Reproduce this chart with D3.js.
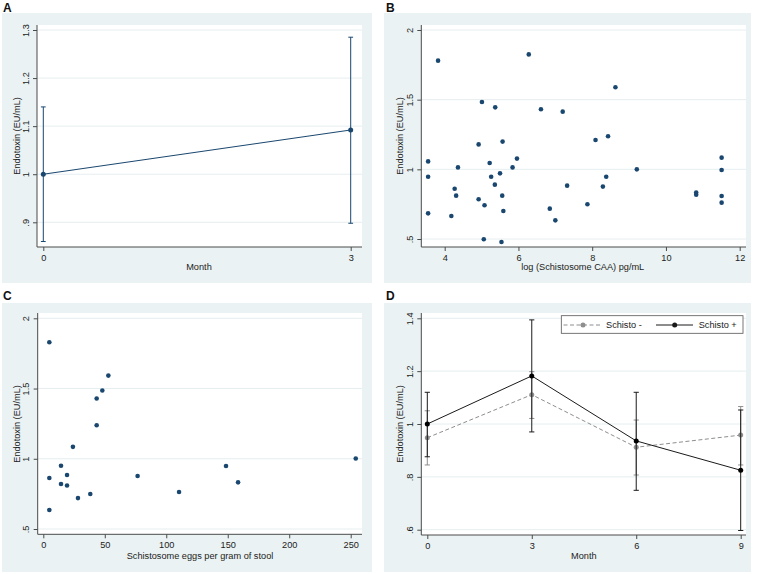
<!DOCTYPE html>
<html>
<head>
<meta charset="utf-8">
<script src="https://cdn.jsdelivr.net/npm/d3@7/dist/d3.min.js"></script>
<style>
  html, body { margin: 0; padding: 0; background: #ffffff; }
  svg { display: block; font-family: "Liberation Sans", Arial, Helvetica, sans-serif; }
</style>
</head>
<body>
<svg id="chart" width="757" height="574"></svg>
<script>
// ---------------- DATA ----------------
// Panel A: endotoxin by month (mean with CI)
const monthsA = [0, 3];
const meanA = [1.000, 1.092];
const lowA  = [0.860, 0.898];
const highA = [1.140, 1.285];
const yTicksA = [0.9, 1.0, 1.1, 1.2, 1.3];
const yTickLabelsA = [".9", "1", "1.1", "1.2", "1.3"];
const xTicksA = [0, 3];

// Panel B: log CAA vs endotoxin
const caaLog = [3.82, 6.28, 8.63, 5.01, 5.37, 6.61, 7.20, 8.09, 8.43, 4.92, 5.57, 3.55, 4.36, 5.22, 5.84,
                5.96, 3.55, 5.26, 5.50, 5.36, 4.27, 4.31, 5.56, 7.32, 8.29, 8.38, 9.21, 4.92, 5.08, 5.59,
                3.55, 4.18, 6.85, 7.00, 7.87, 5.06, 5.54, 10.82, 10.82, 11.51, 11.51, 11.51, 11.51];
const endoB  = [1.780, 1.825, 1.589, 1.483, 1.445, 1.431, 1.414, 1.211, 1.237, 1.179, 1.199, 1.057, 1.014, 1.045, 1.014,
                1.077, 0.947, 0.947, 0.971, 0.890, 0.861, 0.811, 0.811, 0.883, 0.876, 0.947, 1.000, 0.785, 0.742, 0.701,
                0.684, 0.665, 0.718, 0.634, 0.749, 0.498, 0.478, 0.833, 0.818, 1.084, 0.995, 0.809, 0.761];
const xTicksB = [4, 6, 8, 10, 12];
const yTicksB = [0.5, 1.0, 1.5, 2.0];
const yTickLabelsB = [".5", "1", "1.5", "2"];

// Panel C: eggs per gram vs endotoxin
const eggs  = [4.9, 52.9, 48.0, 43.4, 43.4, 24.1, 14.4, 4.9, 19.3, 14.4, 19.3, 28.2, 38.2, 4.9, 76.7, 110.4, 148.6, 158.4, 254.1];
const endoC = [1.829, 1.592, 1.486, 1.429, 1.239, 1.085, 0.950, 0.863, 0.884, 0.820, 0.810, 0.720, 0.749, 0.635, 0.877, 0.763, 0.948, 0.832, 1.002];
const xTicksC = [0, 50, 100, 150, 200, 250];
const yTicksC = [0.5, 1.0, 1.5, 2.0];
const yTickLabelsC = [".5", "1", "1.5", "2"];

// Panel D: by month and schisto status
const monthsD = [0, 3, 6, 9];
const seriesD = ["Schisto -", "Schisto +"];
const meanNeg = [0.948, 1.111, 0.912, 0.958];
const lowNeg  = [0.845, 1.021, 0.807, 0.845];
const highNeg = [1.050, 1.198, 1.015, 1.066];
const meanPos = [1.000, 1.182, 0.936, 0.825];
const lowPos  = [0.876, 0.970, 0.749, 0.597];
const highPos = [1.120, 1.394, 1.120, 1.053];
const yTicksD = [0.6, 0.8, 1.0, 1.2, 1.4];
const yTickLabelsD = [".6", ".8", "1", "1.2", "1.4"];

// ---------------- STYLE ----------------
const NAVY = "#1a476f";
const BG = "#eaf2f3";
const GRID = "#e6eef0";
const AXIS = "#4a4a4a";
const TEXT = "#222222";
const GREY = "#8e8e8e";
const FS = 9.2;

const svg = d3.select("#chart");

function panel(cfg) {
  const g = svg.append("g");
  // graph region
  g.append("rect").attr("x", cfg.bg[0]).attr("y", cfg.bg[1])
    .attr("width", cfg.bg[2] - cfg.bg[0]).attr("height", cfg.bg[3] - cfg.bg[1]).attr("fill", BG);
  // panel letter
  g.append("text").attr("x", cfg.letterPos[0]).attr("y", cfg.letterPos[1])
    .attr("font-size", 12).attr("font-weight", "bold").attr("fill", "#111").text(cfg.letter);
  const [L, T, R, B] = cfg.plot;
  g.append("rect").attr("x", L).attr("y", T).attr("width", R - L).attr("height", B - T).attr("fill", "#fff");

  const x = d3.scaleLinear().domain(cfg.xMap[0]).range(cfg.xMap[1]);
  const y = d3.scaleLinear().domain(cfg.yMap[0]).range(cfg.yMap[1]);

  // gridlines
  g.append("g").selectAll("line").data(cfg.yTicks).join("line")
    .attr("x1", L).attr("x2", R).attr("y1", d => y(d)).attr("y2", d => y(d))
    .attr("stroke", GRID).attr("stroke-width", 1);

  // x axis
  const xAxis = d3.axisBottom(x).tickValues(cfg.xTicks).tickSize(4).tickSizeOuter(0).tickPadding(3)
    .tickFormat(cfg.xFormat || (d => d3.format("")(d)));
  const gx = g.append("g").attr("transform", `translate(0,${B})`).call(xAxis);
  gx.select(".domain").remove();
  gx.append("line").attr("x1", L).attr("x2", R).attr("stroke", AXIS);
  gx.selectAll(".tick line").attr("stroke", AXIS);
  gx.selectAll(".tick text").attr("font-size", FS).attr("fill", TEXT)
    .attr("font-family", "Liberation Sans, Arial, sans-serif");

  // y axis
  const yAxis = d3.axisLeft(y).tickValues(cfg.yTicks).tickSize(4).tickSizeOuter(0)
    .tickFormat((d, i) => cfg.yLabels[i]);
  const gy = g.append("g").attr("transform", `translate(${L},0)`).call(yAxis);
  gy.select(".domain").remove();
  gy.append("line").attr("y1", T).attr("y2", B).attr("stroke", AXIS);
  gy.selectAll(".tick line").attr("stroke", AXIS);
  gy.selectAll(".tick text")
    .attr("font-size", FS).attr("fill", TEXT)
    .attr("font-family", "Liberation Sans, Arial, sans-serif")
    .attr("x", null).attr("dy", null)
    .attr("text-anchor", "middle")
    .attr("transform", "translate(-8.5,0) rotate(-90)")
    .attr("y", 0).attr("dominant-baseline", "auto");

  // axis titles
  g.append("text").attr("x", cfg.xTitlePos[0]).attr("y", cfg.xTitlePos[1])
    .attr("text-anchor", "middle").attr("font-size", FS).attr("fill", TEXT).text(cfg.xTitle);
  g.append("text").attr("transform", `translate(${cfg.yTitlePos[0]},${cfg.yTitlePos[1]}) rotate(-90)`)
    .attr("text-anchor", "middle").attr("font-size", FS).attr("fill", TEXT).text(cfg.yTitle);

  return { g, x, y };
}

function errorBars(g, x, y, xs, lo, hi, color, cap) {
  const eb = g.append("g").attr("stroke", color).attr("stroke-width", 1).attr("fill", "none");
  xs.forEach((xv, i) => {
    eb.append("line").attr("x1", x(xv)).attr("x2", x(xv)).attr("y1", y(lo[i])).attr("y2", y(hi[i]));
    eb.append("line").attr("x1", x(xv) - cap).attr("x2", x(xv) + cap).attr("y1", y(lo[i])).attr("y2", y(lo[i]));
    eb.append("line").attr("x1", x(xv) - cap).attr("x2", x(xv) + cap).attr("y1", y(hi[i])).attr("y2", y(hi[i]));
  });
}

// ---------------- PANEL A ----------------
{
  const { g, x, y } = panel({
    letter: "A", letterPos: [3, 12], bg: [2, 13, 372, 283], plot: [37, 25, 362, 247],
    xMap: [[0, 3], [43.3, 350.7]], yMap: [[0.9, 1.3], [222.3, 30]],
    xTicks: xTicksA, yTicks: yTicksA, yLabels: yTickLabelsA,
    xTitle: "Month", xTitlePos: [199, 270],
    yTitle: "Endotoxin (EU/mL)", yTitlePos: [20, 136]
  });
  errorBars(g, x, y, monthsA, lowA, highA, NAVY, 2.4);
  const line = d3.line().x((d, i) => x(monthsA[i])).y(d => y(d));
  g.append("path").attr("d", line(meanA)).attr("stroke", NAVY).attr("fill", "none").attr("stroke-width", 1);
  g.append("g").selectAll("circle").data(meanA).join("circle")
    .attr("cx", (d, i) => x(monthsA[i])).attr("cy", d => y(d)).attr("r", 2.5).attr("fill", NAVY);
}

// ---------------- PANEL B ----------------
{
  const { g, x, y } = panel({
    letter: "B", letterPos: [386, 12], bg: [384, 13, 751, 283], plot: [421.3, 25, 746, 247],
    xMap: [[4, 12], [444.7, 739.7]], yMap: [[0.5, 2.0], [239, 30]],
    xTicks: xTicksB, yTicks: yTicksB, yLabels: yTickLabelsB,
    xTitle: "log (Schistosome CAA) pg/mL", xTitlePos: [582.7, 270],
    yTitle: "Endotoxin (EU/mL)", yTitlePos: [403, 136]
  });
  g.append("g").selectAll("circle").data(caaLog).join("circle")
    .attr("cx", d => x(d)).attr("cy", (d, i) => y(endoB[i])).attr("r", 2.3).attr("fill", NAVY);
}

// ---------------- PANEL C ----------------
{
  const { g, x, y } = panel({
    letter: "C", letterPos: [3, 300], bg: [2, 303, 372, 572], plot: [37.7, 313, 362, 534.3],
    xMap: [[0, 250], [43.3, 350.7]], yMap: [[0.5, 2.0], [529, 318.3]],
    xTicks: xTicksC, yTicks: yTicksC, yLabels: yTickLabelsC,
    xTitle: "Schistosome eggs per gram of stool", xTitlePos: [200, 559],
    yTitle: "Endotoxin (EU/mL)", yTitlePos: [20, 424]
  });
  g.append("g").selectAll("circle").data(eggs).join("circle")
    .attr("cx", d => x(d)).attr("cy", (d, i) => y(endoC[i])).attr("r", 2.3).attr("fill", NAVY);
}

// ---------------- PANEL D ----------------
{
  const { g, x, y } = panel({
    letter: "D", letterPos: [386, 300], bg: [384, 303, 751, 572], plot: [421.3, 313, 746, 535],
    xMap: [[0, 9], [427.3, 740.7]], yMap: [[0.6, 1.4], [529.7, 318.3]],
    xTicks: monthsD, yTicks: yTicksD, yLabels: yTickLabelsD,
    xTitle: "Month", xTitlePos: [583.8, 559],
    yTitle: "Endotoxin (EU/mL)", yTitlePos: [403, 424]
  });
  const line = d3.line().x((d, i) => x(monthsD[i])).y(d => y(d));
  // Schisto - (grey dashed)
  errorBars(g, x, y, monthsD, lowNeg, highNeg, GREY, 2.6);
  g.append("path").attr("d", line(meanNeg)).attr("stroke", GREY).attr("fill", "none")
    .attr("stroke-width", 1).attr("stroke-dasharray", "4,2.5");
  g.append("g").selectAll("circle").data(meanNeg).join("circle")
    .attr("cx", (d, i) => x(monthsD[i])).attr("cy", d => y(d)).attr("r", 2.5).attr("fill", GREY);
  // Schisto + (black solid)
  errorBars(g, x, y, monthsD, lowPos, highPos, "#1a1a1a", 2.6);
  g.append("path").attr("d", line(meanPos)).attr("stroke", "#1a1a1a").attr("fill", "none").attr("stroke-width", 1);
  g.append("g").selectAll("circle").data(meanPos).join("circle")
    .attr("cx", (d, i) => x(monthsD[i])).attr("cy", d => y(d)).attr("r", 2.5).attr("fill", "#000");

  // legend
  const lg = g.append("g");
  lg.append("rect").attr("x", 561.3).attr("y", 315.7).attr("width", 181.7).attr("height", 17.6)
    .attr("fill", "#fff").attr("stroke", "#555").attr("stroke-width", 0.8);
  const items = [
    { name: seriesD[0], color: GREY, dash: "4,2.5", x0: 563.5, x1: 602, mx: 583, tx: 606 },
    { name: seriesD[1], color: "#1a1a1a", dash: null, x0: 656, x1: 693, mx: 674.7, tx: 698.7 }
  ];
  items.forEach(it => {
    lg.append("line").attr("x1", it.x0).attr("x2", it.x1).attr("y1", 325).attr("y2", 325)
      .attr("stroke", it.color).attr("stroke-width", 1).attr("stroke-dasharray", it.dash);
    lg.append("circle").attr("cx", it.mx).attr("cy", 325).attr("r", 2.5).attr("fill", it.color);
    lg.append("text").attr("x", it.tx).attr("y", 328.3).attr("font-size", FS).attr("fill", TEXT).text(it.name);
  });
}
</script>
</body>
</html>
